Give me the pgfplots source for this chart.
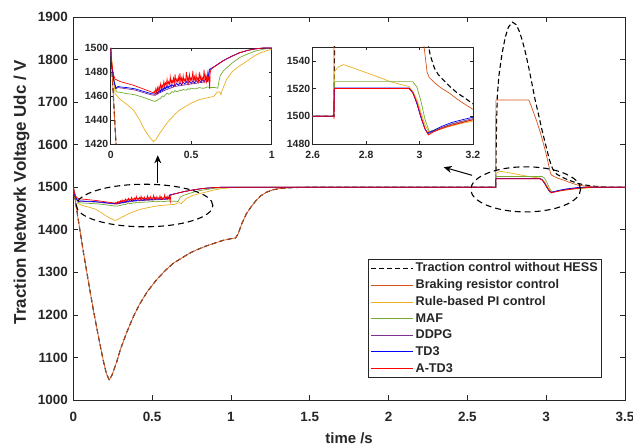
\documentclass[border=0pt]{standalone}
\usepackage{fontspec}
\setmainfont{Liberation Sans}
\usepackage{pgfplots}
\usepackage{pgfplotstable}
\pgfplotsset{compat=1.18}
\usetikzlibrary{arrows.meta}

\definecolor{cOr}{RGB}{217,83,25}
\definecolor{cYe}{RGB}{237,177,32}
\definecolor{cGr}{RGB}{119,172,48}
\definecolor{cPu}{RGB}{126,47,142}
\definecolor{cBl}{RGB}{0,0,255}
\definecolor{cRe}{RGB}{255,0,0}
\definecolor{axc}{RGB}{38,38,38}

\pgfplotstableread{
t V
0 1500
0.01 1476
0.033 1420
0.063 1350
0.095 1280
0.127 1212
0.16 1148
0.19 1093
0.21 1062
0.228 1047
0.245 1058
0.274 1088
0.3 1120
0.338 1158
0.38 1195
0.422 1226
0.47 1255
0.527 1282
0.58 1303
0.633 1321
0.69 1334
0.738 1345
0.79 1354
0.844 1362
0.9 1369
0.949 1375
1.0 1379
1.03 1381
1.045 1390
1.07 1415
1.097 1437
1.13 1455
1.16 1469
1.19 1480
1.224 1488
1.266 1494
1.32 1497.5
1.4 1499.3
1.5 1500
2.68 1500
2.685 1650
2.69 1715
2.70 1762
2.72 1814
2.74 1852
2.76 1876
2.785 1888
2.81 1882
2.83 1866
2.85 1843
2.87 1814
2.89 1780
2.91 1743
2.93 1705
2.955 1665
2.975 1632
3.0 1595
3.02 1565
3.04 1544
3.055 1535
3.07 1530
3.09 1526
3.113 1521.5
3.14 1517
3.163 1514
3.2 1509
3.25 1505
3.3 1502.5
3.35 1501
3.4 1500.3
3.5 1500
}\tabDash

\pgfplotstableread{
t V
0 1500
0.01 1476
0.033 1420
0.063 1350
0.095 1280
0.127 1212
0.16 1148
0.19 1093
0.21 1062
0.228 1047
0.245 1058
0.274 1088
0.3 1120
0.338 1158
0.38 1195
0.422 1226
0.47 1255
0.527 1282
0.58 1303
0.633 1321
0.69 1334
0.738 1345
0.79 1354
0.844 1362
0.9 1369
0.949 1375
1.0 1379
1.03 1381
1.045 1390
1.07 1415
1.097 1437
1.13 1455
1.16 1469
1.19 1480
1.224 1488
1.266 1494
1.32 1497.5
1.4 1499.3
1.5 1500
2.679 1500
2.681 1705
2.89 1705
2.91 1686
2.94 1655
2.965 1626
2.996 1584
3.017 1550
3.028 1532
3.036 1528
3.06 1523.5
3.08 1520.5
3.113 1516.5
3.14 1512.5
3.163 1509.5
3.2 1505
3.26 1502
3.35 1500.3
3.5 1500
}\tabOr

\pgfplotstableread{
t V
0 1500
0.005 1493
0.027 1462
0.06 1457
0.1 1453
0.14 1448.5
0.18 1440
0.21 1432
0.24 1426
0.265 1422
0.28 1423.5
0.3 1428
0.35 1437.5
0.4 1445
0.43 1448.5
0.5 1454
0.55 1457
0.6 1458.5
0.64 1459.6
0.66 1463
0.675 1463.5
0.685 1461
0.69 1464
0.72 1474
0.76 1481
0.8 1485
0.845 1489
0.9 1494
0.93 1496
1.0 1499
1.1 1500
2.679 1500
2.681 1532
2.695 1535.5
2.715 1537.3
2.75 1535
2.8 1531.5
2.85 1528
2.89 1525
2.93 1523
2.96 1521.5
2.975 1518
2.99 1512
3.005 1503
3.02 1494
3.036 1488
3.06 1489.5
3.1 1492
3.15 1494.5
3.2 1496.5
3.3 1499.5
3.4 1500
3.5 1500
}\tabYe

\pgfplotstableread{
t V
0 1500
0.005 1485
0.035 1463.5
0.06 1463
0.1 1462
0.15 1461
0.2 1459
0.25 1456.5
0.275 1455.5
0.29 1456.5
0.3 1457.5
0.31 1458
0.32 1460
0.33 1459.5
0.34 1461
0.35 1462.5
0.36 1461.5
0.37 1462
0.38 1463.5
0.39 1463
0.4 1464.5
0.41 1463.5
0.42 1464
0.43 1465
0.44 1464.5
0.45 1465.5
0.46 1465
0.47 1465
0.48 1466
0.49 1465.5
0.5 1466.5
0.52 1466
0.53 1466
0.55 1467
0.57 1466.5
0.58 1466.5
0.6 1467.5
0.62 1467
0.65 1467
0.665 1466.5
0.672 1472
0.68 1477
0.7 1481
0.75 1487
0.8 1492
0.85 1495
0.9 1497.5
0.95 1499
1.0 1500
2.679 1500
2.681 1525
2.975 1525
2.99 1521
3.005 1511
3.02 1498
3.036 1489
3.06 1490.5
3.1 1493
3.15 1495.5
3.2 1497.5
3.3 1500
3.5 1500
}\tabGr

\pgfplotstableread{
t V
0 1500
0.005 1485
0.03 1466
0.045 1467
0.1 1466
0.15 1465
0.2 1463
0.25 1461
0.275 1460.5
0.3 1462.5
0.35 1465.5
0.4 1468
0.45 1469
0.5 1470
0.55 1471
0.6 1472
0.608 1474
0.615 1482
0.65 1485
0.7 1489.5
0.75 1493
0.8 1496
0.85 1498
0.9 1499.3
0.95 1500
2.679 1500
2.681 1520
2.96 1520
2.975 1517
2.99 1509.5
3.005 1500
3.02 1491
3.032 1487.5
3.05 1489
3.08 1491.5
3.12 1494.5
3.16 1496.5
3.2 1498.3
3.25 1499.5
3.3 1500
3.5 1500
}\tabPu

\pgfplotstableread{
t V
0 1500
0.005 1487
0.02 1472
0.033 1466.5
0.045 1468
0.06 1467.5
0.1 1467
0.15 1466
0.2 1464
0.25 1462
0.275 1461.5
0.285 1463
0.29 1462
0.295 1464
0.30 1463
0.305 1465
0.31 1463.5
0.315 1466
0.32 1464.5
0.325 1466.5
0.33 1465
0.335 1467.5
0.34 1466
0.345 1468
0.35 1466.5
0.355 1468.5
0.36 1467
0.37 1469
0.375 1467.5
0.38 1469.5
0.39 1468
0.395 1470
0.40 1468.5
0.41 1470.5
0.42 1469
0.43 1471
0.44 1469.5
0.45 1471.5
0.46 1470
0.47 1472
0.48 1470.5
0.49 1472
0.50 1470.5
0.51 1472.5
0.52 1471
0.53 1473
0.54 1471.5
0.55 1473
0.56 1471.5
0.57 1473.5
0.58 1472
0.59 1474
0.60 1472.5
0.605 1475
0.612 1482
0.625 1483
0.65 1485
0.7 1489.5
0.75 1493
0.8 1496
0.85 1498
0.9 1499.3
0.95 1500
2.679 1500
2.681 1520.5
2.96 1520.5
2.975 1517
2.99 1509
3.005 1499
3.02 1491
3.03 1488
3.05 1489.5
3.08 1492.5
3.12 1495.5
3.16 1497.5
3.2 1499.3
3.25 1500
3.5 1500
}\tabBl

\pgfplotstableread{
t V
0 1500
0.005 1490
0.015 1479
0.027 1474
0.06 1472
0.1 1470.5
0.14 1469
0.18 1467
0.22 1465
0.25 1463.5
0.265 1462.5
0.27 1464
0.275 1462
0.28 1466
0.285 1463
0.29 1467
0.295 1464
0.30 1468
0.305 1465
0.31 1470
0.315 1466
0.32 1469
0.325 1467
0.33 1472
0.335 1468
0.34 1471
0.345 1469
0.35 1474
0.355 1469
0.36 1472
0.365 1470
0.37 1476
0.375 1470
0.38 1473
0.385 1471
0.39 1475
0.395 1470
0.40 1478
0.405 1471
0.41 1474
0.415 1472
0.42 1476
0.425 1471
0.43 1479
0.435 1472
0.44 1475
0.445 1471
0.45 1477
0.455 1472
0.46 1474
0.465 1472
0.47 1480
0.475 1472
0.48 1476
0.485 1471
0.49 1478
0.495 1473
0.50 1475
0.505 1472
0.51 1481
0.515 1473
0.52 1476
0.525 1472
0.53 1478
0.535 1473
0.54 1475
0.545 1472
0.55 1480
0.555 1473
0.56 1477
0.565 1472
0.57 1475
0.575 1473
0.58 1482
0.585 1473
0.59 1477
0.595 1472
0.60 1479
0.605 1473
0.61 1476
0.615 1466
0.618 1480
0.625 1482.5
0.65 1485
0.7 1489.5
0.75 1493
0.8 1496
0.85 1498
0.9 1499.3
0.95 1500
2.679 1500
2.68 1498
2.681 1520
2.96 1520
2.975 1517
2.99 1510
3.005 1500
3.02 1491
3.033 1486.5
3.05 1488.5
3.08 1491
3.12 1493.5
3.16 1495.5
3.2 1497.5
3.25 1499
3.3 1500
3.5 1500
}\tabRe

\tikzset{
  sDash/.style={draw=black, color=black, line width=1.1pt, dash pattern=on 5pt off 3pt},
  sOr/.style={draw=cOr, color=cOr, line width=0.7pt},
  sYe/.style={draw=cYe, color=cYe, line width=0.7pt},
  sGr/.style={draw=cGr, color=cGr, line width=0.7pt},
  sPu/.style={draw=cPu, color=cPu, line width=0.7pt},
  sBl/.style={draw=cBl, color=cBl, line width=0.7pt},
  sRe/.style={draw=cRe, color=cRe, line width=0.7pt},
}
\pgfplotsset{
  myaxis/.style={
    scale only axis,
    axis line style={axc, line width=0.6pt},
    tick style={axc, line width=0.6pt},
    tick align=inside,
    scaled ticks=false,
    /pgf/number format/assume math mode=true,
    /pgf/number format/1000 sep={},
    tick label style={text=axc},
    axis background/.style={fill=white},
  },
}

\begin{document}
\begin{tikzpicture}
\useasboundingbox (-73.3bp,-46bp) rectangle (559.7bp,400bp);
\begin{axis}[myaxis,
  name=main, at={(0,0)}, anchor=south west,
  width=551.7bp, height=383bp,
  xmin=0, xmax=3.5, ymin=1000, ymax=1900,
  xtick={0,0.5,1,1.5,2,2.5,3,3.5},
  ytick={1000,1100,1200,1300,1400,1500,1600,1700,1800,1900},
  major tick length=5bp,
  tick label style={font=\bfseries\fontsize{13.5}{15}\selectfont},
  xticklabel style={yshift=-9bp},
  yticklabel style={xshift=-2bp},
  xlabel={time /s},
  ylabel={Traction Network Voltage Udc / V},
  xlabel style={font=\bfseries\fontsize{15}{17}\selectfont, text=axc, at={(axis description cs:0.5,-0.099)}, anchor=center},
  ylabel style={font=\bfseries\fontsize{17}{19}\selectfont, text=axc, at={(axis description cs:-0.094,0.543)}, anchor=center},
  legend cell align=left,
  legend image code/.code={\draw[#1, line width=1pt] (0bp,0bp) -- (42bp,0bp);},
  legend style={at={(axis description cs:1,0)}, anchor=south east,
    xshift=-23bp, yshift=22bp, draw=axc, line width=0.6pt,
    font=\bfseries\fontsize{12.7}{14}\selectfont, text=axc,
    inner sep=2bp, row sep=2.3bp},
]
\addplot[sDash] table {\tabDash};
\addlegendentry{Traction control without HESS}
\addplot[sOr] table {\tabOr};
\addlegendentry{Braking resistor control}
\addplot[sYe] table {\tabYe};
\addlegendentry{Rule-based PI control}
\addplot[sGr] table {\tabGr};
\addlegendentry{MAF}
\addplot[sPu] table {\tabPu};
\addlegendentry{DDPG}
\addplot[sBl] table {\tabBl};
\addlegendentry{TD3}
\addplot[sRe] table {\tabRe};
\addlegendentry{A-TD3}
\draw[black, line width=1.1pt, dash pattern=on 6pt off 4pt] (axis cs:0.4525,1457) ellipse [x radius=0.433, y radius=50];
\draw[black, line width=1.1pt, dash pattern=on 6pt off 4pt] (axis cs:2.870,1495) ellipse [x radius=0.348, y radius=53];
\draw[black, line width=1pt, -{Stealth[length=8bp,width=7bp]}] (axis cs:0.536,1509) -- (axis cs:0.536,1575);
\draw[black, line width=1pt, -{Stealth[length=8bp,width=7bp]}] (axis cs:2.53,1528) -- (axis cs:2.35,1547);
\end{axis}

\begin{axis}[myaxis,
  at={(37.4bp,256bp)}, anchor=south west,
  width=161bp, height=96bp,
  xmin=0, xmax=1, ymin=1420, ymax=1500,
  xtick={0,0.5,1}, ytick={1420,1440,1460,1480,1500},
  major tick length=3bp,
  tick label style={font=\bfseries\fontsize{10.5}{12}\selectfont},
  xticklabel style={yshift=-4bp},
  yticklabel style={xshift=1bp},
]
\addplot[sDash] table {\tabDash};
\addplot[sOr] table {\tabOr};
\addplot[sYe] table {\tabYe};
\addplot[sGr] table {\tabGr};
\addplot[sPu] table {\tabPu};
\addplot[sBl] table {\tabBl};
\addplot[sRe] table {\tabRe};
\end{axis}

\begin{axis}[myaxis,
  at={(239.4bp,256bp)}, anchor=south west,
  width=160.3bp, height=97bp,
  xmin=2.6, xmax=3.2, ymin=1480, ymax=1550,
  xtick={2.6,2.8,3,3.2}, ytick={1480,1500,1520,1540},
  major tick length=3bp,
  tick label style={font=\bfseries\fontsize{10.5}{12}\selectfont},
  xticklabel style={yshift=-4bp},
  yticklabel style={xshift=1bp},
]
\addplot[sDash] table {\tabDash};
\addplot[sOr] table {\tabOr};
\addplot[sYe] table {\tabYe};
\addplot[sGr] table {\tabGr};
\addplot[sPu] table {\tabPu};
\addplot[sBl] table {\tabBl};
\addplot[sRe] table {\tabRe};
\end{axis}
\end{tikzpicture}
\end{document}
